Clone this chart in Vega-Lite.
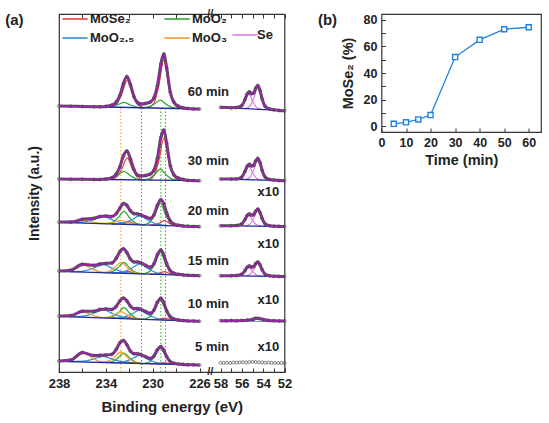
{
"$schema":"https://vega.github.io/schema/vega-lite/v6.json",
"padding":{"left":4,"top":7,"right":0,"bottom":0},
"background":"white",
"bounds":"flush",
"spacing":96.5,
"config":{
 "font":"Liberation Sans",
 "view":{"stroke":"#333","strokeWidth":1.2},
 "axis":{"labelFont":"Liberation Sans","labelFontWeight":"bold","labelColor":"#222","titleFont":"Liberation Sans","titleFontWeight":"bold","titleColor":"#222","domain":false,"grid":false,"tickColor":"#333","labelOverlap":false,"labelFlush":false}
},
"datasets":{
"ref":[{"x":232.72,"c":"O"},{"x":230.95,"c":"B"},{"x":229.3,"c":"G"},{"x":228.9,"c":"S"}],
"lab":[{"x":57.2,"y":280,"txt":"60 min"},{"x":57.2,"y":211,"txt":"30 min"},{"x":57.2,"y":161,"txt":"20 min"},{"x":57.2,"y":111,"txt":"15 min"},{"x":57.2,"y":68,"txt":"10 min"},{"x":57.2,"y":25,"txt":"5 min"},{"x":52.5,"y":180,"txt":"x10"},{"x":52.5,"y":128,"txt":"x10"},{"x":52.5,"y":72,"txt":"x10"},{"x":52.5,"y":25,"txt":"x10"}],
"pa":[{"x":242.6,"y":352,"txt":"(a)"}],
"pb":[{"t":-25.9,"v":80,"txt":"(b)"}],
"brk":[{"x":140,"y":358},{"x":140,"y":0}],
"pct":[{"t":5,"v":1.7},{"t":10,"v":2.8},{"t":15,"v":5},{"t":20,"v":8.3},{"t":30,"v":52},{"t":40,"v":65},{"t":50,"v":73},{"t":60,"v":74.5}],
"K":[{"g":"60L","x":238,"y":266},{"g":"60L","x":226,"y":263},{"g":"60R","x":58,"y":264.7},{"g":"60R","x":52,"y":261.3},
{"g":"30L","x":238,"y":193},{"g":"30L","x":226,"y":191.3},{"g":"30R","x":58,"y":193},{"g":"30R","x":52,"y":191.3},
{"g":"20L","x":238,"y":149.7},{"g":"20L","x":226,"y":145.3},{"g":"20R","x":58,"y":146.3},{"g":"20R","x":52,"y":145.5},
{"g":"15L","x":238,"y":100.7},{"g":"15L","x":226,"y":96.3},{"g":"15R","x":58,"y":96.3},{"g":"15R","x":52,"y":95.5},
{"g":"10L","x":238,"y":55.7},{"g":"10L","x":226,"y":50.7},{"g":"10R","x":58,"y":51.3},{"g":"10R","x":52,"y":51},
{"g":"5L","x":238,"y":10.7},{"g":"5L","x":226,"y":7}],
"E":[
{"g":"60L","x":238,"y":266},{"g":"60L","x":237,"y":265.8},{"g":"60L","x":236,"y":265.5},{"g":"60L","x":235,"y":265.3},{"g":"60L","x":234.5,"y":265.2},{"g":"60L","x":234,"y":265.6},{"g":"60L","x":233.5,"y":266.8},{"g":"60L","x":233.1,"y":270},{"g":"60L","x":232.8,"y":276.6},{"g":"60L","x":232.5,"y":288.5},{"g":"60L","x":232.2,"y":295.5},{"g":"60L","x":231.9,"y":287.5},{"g":"60L","x":231.6,"y":275.5},{"g":"60L","x":231.3,"y":269.5},{"g":"60L","x":231,"y":268},{"g":"60L","x":230.6,"y":268.5},{"g":"60L","x":230.2,"y":270},{"g":"60L","x":229.9,"y":274},{"g":"60L","x":229.6,"y":286},{"g":"60L","x":229.3,"y":308},{"g":"60L","x":229.05,"y":318},{"g":"60L","x":228.8,"y":304},{"g":"60L","x":228.5,"y":280},{"g":"60L","x":228.2,"y":270},{"g":"60L","x":227.8,"y":265.8},{"g":"60L","x":227.4,"y":264.3},{"g":"60L","x":227,"y":263.5},{"g":"60L","x":226.5,"y":263.1},{"g":"60L","x":226,"y":263},
{"g":"60R","x":58,"y":264.7},{"g":"60R","x":57,"y":264.3},{"g":"60R","x":56.5,"y":264.4},{"g":"60R","x":56,"y":266.5},{"g":"60R","x":55.7,"y":272.6},{"g":"60R","x":55.5,"y":277.9},{"g":"60R","x":55.3,"y":280.2},{"g":"60R","x":55.1,"y":278.3},{"g":"60R","x":54.9,"y":278.9},{"g":"60R","x":54.7,"y":283.7},{"g":"60R","x":54.5,"y":286.4},{"g":"60R","x":54.3,"y":281.8},{"g":"60R","x":54.1,"y":273.3},{"g":"60R","x":53.8,"y":265.5},{"g":"60R","x":53.4,"y":263},{"g":"60R","x":53,"y":262.2},{"g":"60R","x":52.5,"y":261.6},{"g":"60R","x":52,"y":261.3},
{"g":"30L","x":238,"y":193},{"g":"30L","x":237,"y":192.8},{"g":"30L","x":236,"y":192.7},{"g":"30L","x":235,"y":192.6},{"g":"30L","x":234.5,"y":192.5},{"g":"30L","x":234,"y":192.9},{"g":"30L","x":233.5,"y":194.2},{"g":"30L","x":233.1,"y":198.2},{"g":"30L","x":232.8,"y":205.2},{"g":"30L","x":232.5,"y":216.1},{"g":"30L","x":232.2,"y":221},{"g":"30L","x":231.9,"y":213.1},{"g":"30L","x":231.6,"y":202.5},{"g":"30L","x":231.3,"y":197},{"g":"30L","x":231,"y":196},{"g":"30L","x":230.6,"y":196.5},{"g":"30L","x":230.2,"y":198},{"g":"30L","x":229.9,"y":201.5},{"g":"30L","x":229.6,"y":213.6},{"g":"30L","x":229.3,"y":234.6},{"g":"30L","x":229.05,"y":242},{"g":"30L","x":228.8,"y":228.6},{"g":"30L","x":228.5,"y":206.3},{"g":"30L","x":228.2,"y":197.5},{"g":"30L","x":227.8,"y":194},{"g":"30L","x":227.4,"y":192.5},{"g":"30L","x":227,"y":191.6},{"g":"30L","x":226.5,"y":191.4},{"g":"30L","x":226,"y":191.3},
{"g":"30R","x":58,"y":193},{"g":"30R","x":57,"y":192.9},{"g":"30R","x":56.5,"y":193.05},{"g":"30R","x":56,"y":195},{"g":"30R","x":55.7,"y":200.75},{"g":"30R","x":55.5,"y":205.6},{"g":"30R","x":55.3,"y":207.7},{"g":"30R","x":55.1,"y":206},{"g":"30R","x":54.9,"y":206.6},{"g":"30R","x":54.7,"y":211.05},{"g":"30R","x":54.5,"y":213.6},{"g":"30R","x":54.3,"y":209.45},{"g":"30R","x":54.1,"y":201.7},{"g":"30R","x":53.8,"y":194.7},{"g":"30R","x":53.4,"y":192.5},{"g":"30R","x":53,"y":191.9},{"g":"30R","x":52.5,"y":191.45},{"g":"30R","x":52,"y":191.3},
{"g":"20L","x":238,"y":149.9},{"g":"20L","x":237,"y":150},{"g":"20L","x":236,"y":152.7},{"g":"20L","x":235,"y":153.7},{"g":"20L","x":234.5,"y":155.5},{"g":"20L","x":234,"y":155.9},{"g":"20L","x":233.5,"y":155.5},{"g":"20L","x":233.1,"y":158.4},{"g":"20L","x":232.8,"y":164},{"g":"20L","x":232.5,"y":168.4},{"g":"20L","x":232.2,"y":166.6},{"g":"20L","x":231.9,"y":161.2},{"g":"20L","x":231.6,"y":158.3},{"g":"20L","x":231.3,"y":158.1},{"g":"20L","x":231,"y":157.1},{"g":"20L","x":230.6,"y":155.1},{"g":"20L","x":230.2,"y":153.5},{"g":"20L","x":229.9,"y":157},{"g":"20L","x":229.6,"y":166.5},{"g":"20L","x":229.3,"y":172.3},{"g":"20L","x":229.05,"y":168.1},{"g":"20L","x":228.8,"y":158.9},{"g":"20L","x":228.5,"y":151.1},{"g":"20L","x":228.2,"y":148},{"g":"20L","x":227.8,"y":146.7},{"g":"20L","x":227.4,"y":146},{"g":"20L","x":227,"y":145.7},{"g":"20L","x":226.5,"y":145.5},{"g":"20L","x":226,"y":145.3},
{"g":"20R","x":58,"y":146.3},{"g":"20R","x":57,"y":146.3},{"g":"20R","x":56.5,"y":146.45},{"g":"20R","x":56,"y":148.1},{"g":"20R","x":55.7,"y":152.6},{"g":"20R","x":55.5,"y":156.5},{"g":"20R","x":55.3,"y":158.1},{"g":"20R","x":55.1,"y":156.8},{"g":"20R","x":54.9,"y":157.3},{"g":"20R","x":54.7,"y":160.9},{"g":"20R","x":54.5,"y":162.9},{"g":"20R","x":54.3,"y":159.6},{"g":"20R","x":54.1,"y":153.6},{"g":"20R","x":53.8,"y":148},{"g":"20R","x":53.4,"y":146.3},{"g":"20R","x":53,"y":145.8},{"g":"20R","x":52.5,"y":145.6},{"g":"20R","x":52,"y":145.5},
{"g":"15L","x":238,"y":101},{"g":"15L","x":237,"y":101.7},{"g":"15L","x":236,"y":107.7},{"g":"15L","x":235,"y":106.65},{"g":"15L","x":234.5,"y":108.1},{"g":"15L","x":234,"y":108.6},{"g":"15L","x":233.5,"y":108.9},{"g":"15L","x":233.1,"y":113.9},{"g":"15L","x":232.8,"y":120.4},{"g":"15L","x":232.5,"y":123.3},{"g":"15L","x":232.2,"y":119.3},{"g":"15L","x":231.9,"y":112.9},{"g":"15L","x":231.6,"y":110.1},{"g":"15L","x":231.3,"y":110.1},{"g":"15L","x":231,"y":109.2},{"g":"15L","x":230.6,"y":106.7},{"g":"15L","x":230.2,"y":104.8},{"g":"15L","x":229.9,"y":108.1},{"g":"15L","x":229.6,"y":117.1},{"g":"15L","x":229.3,"y":122},{"g":"15L","x":229.05,"y":117.2},{"g":"15L","x":228.8,"y":108.3},{"g":"15L","x":228.5,"y":101.3},{"g":"15L","x":228.2,"y":98.8},{"g":"15L","x":227.8,"y":97.7},{"g":"15L","x":227.4,"y":97.1},{"g":"15L","x":227,"y":96.7},{"g":"15L","x":226.5,"y":96.5},{"g":"15L","x":226,"y":96.3},
{"g":"15R","x":58,"y":96.3},{"g":"15R","x":57,"y":96.3},{"g":"15R","x":56.5,"y":96.4},{"g":"15R","x":56,"y":97.8},{"g":"15R","x":55.7,"y":101.5},{"g":"15R","x":55.5,"y":104.7},{"g":"15R","x":55.3,"y":106.1},{"g":"15R","x":55.1,"y":105},{"g":"15R","x":54.9,"y":105.4},{"g":"15R","x":54.7,"y":108.4},{"g":"15R","x":54.5,"y":110},{"g":"15R","x":54.3,"y":107.3},{"g":"15R","x":54.1,"y":102.3},{"g":"15R","x":53.8,"y":97.6},{"g":"15R","x":53.4,"y":96.2},{"g":"15R","x":53,"y":95.8},{"g":"15R","x":52.5,"y":95.6},{"g":"15R","x":52,"y":95.5},
{"g":"10L","x":238,"y":55.9},{"g":"10L","x":237,"y":56.4},{"g":"10L","x":236,"y":60.7},{"g":"10L","x":235,"y":60.8},{"g":"10L","x":234.5,"y":62.6},{"g":"10L","x":234,"y":63.1},{"g":"10L","x":233.5,"y":62.5},{"g":"10L","x":233.1,"y":65.7},{"g":"10L","x":232.8,"y":71.1},{"g":"10L","x":232.5,"y":73.9},{"g":"10L","x":232.2,"y":71},{"g":"10L","x":231.9,"y":65.7},{"g":"10L","x":231.6,"y":63.3},{"g":"10L","x":231.3,"y":63.5},{"g":"10L","x":231,"y":62.7},{"g":"10L","x":230.6,"y":60.4},{"g":"10L","x":230.2,"y":58.75},{"g":"10L","x":229.9,"y":61.7},{"g":"10L","x":229.6,"y":69.8},{"g":"10L","x":229.3,"y":73.8},{"g":"10L","x":229.05,"y":69.2},{"g":"10L","x":228.8,"y":61.2},{"g":"10L","x":228.5,"y":55.25},{"g":"10L","x":228.2,"y":53.05},{"g":"10L","x":227.8,"y":52},{"g":"10L","x":227.4,"y":51.5},{"g":"10L","x":227,"y":51.1},{"g":"10L","x":226.5,"y":50.9},{"g":"10L","x":226,"y":50.7},
{"g":"10R","x":58,"y":51.3},{"g":"10R","x":57.5,"y":51.2},{"g":"10R","x":57,"y":51.4},{"g":"10R","x":56.5,"y":51.2},{"g":"10R","x":56,"y":51.5},{"g":"10R","x":55.5,"y":51.8},{"g":"10R","x":55,"y":52.6},{"g":"10R","x":54.7,"y":53.8},{"g":"10R","x":54.4,"y":53.5},{"g":"10R","x":54,"y":52.5},{"g":"10R","x":53.5,"y":51.6},{"g":"10R","x":53,"y":51.3},{"g":"10R","x":52.5,"y":51.1},{"g":"10R","x":52,"y":51},
{"g":"5L","x":238,"y":11},{"g":"5L","x":237,"y":12},{"g":"5L","x":236,"y":19.5},{"g":"5L","x":235,"y":16.4},{"g":"5L","x":234.5,"y":16.7},{"g":"5L","x":234,"y":17},{"g":"5L","x":233.5,"y":17.6},{"g":"5L","x":233.1,"y":22.9},{"g":"5L","x":232.8,"y":29.2},{"g":"5L","x":232.5,"y":31.4},{"g":"5L","x":232.2,"y":27.1},{"g":"5L","x":231.9,"y":20.9},{"g":"5L","x":231.6,"y":18.3},{"g":"5L","x":231.3,"y":18.25},{"g":"5L","x":231,"y":17.4},{"g":"5L","x":230.6,"y":15.3},{"g":"5L","x":230.2,"y":13.6},{"g":"5L","x":229.9,"y":15.8},{"g":"5L","x":229.6,"y":22.2},{"g":"5L","x":229.3,"y":25.4},{"g":"5L","x":229.05,"y":21.6},{"g":"5L","x":228.8,"y":15.3},{"g":"5L","x":228.5,"y":10.5},{"g":"5L","x":228.2,"y":8.8},{"g":"5L","x":227.8,"y":8},{"g":"5L","x":227.4,"y":7.6},{"g":"5L","x":227,"y":7.3},{"g":"5L","x":226.5,"y":7.15},{"g":"5L","x":226,"y":7},
{"g":"5R","x":58,"y":9.2},{"g":"5R","x":57.7,"y":9},{"g":"5R","x":57.4,"y":9.4},{"g":"5R","x":57.1,"y":9.1},{"g":"5R","x":56.8,"y":9.5},{"g":"5R","x":56.5,"y":9.3},{"g":"5R","x":56.2,"y":9.6},{"g":"5R","x":55.9,"y":9.8},{"g":"5R","x":55.6,"y":9.5},{"g":"5R","x":55.3,"y":9.9},{"g":"5R","x":55,"y":10.2},{"g":"5R","x":54.7,"y":10},{"g":"5R","x":54.4,"y":9.7},{"g":"5R","x":54.1,"y":9.6},{"g":"5R","x":53.8,"y":9.3},{"g":"5R","x":53.5,"y":9.4},{"g":"5R","x":53.2,"y":9.1},{"g":"5R","x":52.9,"y":9.2},{"g":"5R","x":52.6,"y":8.9},{"g":"5R","x":52.3,"y":9},{"g":"5R","x":52,"y":8.8}
],
"C":[
{"g":"60L1","c":"S","x":230.33,"y":264.1},{"g":"60L1","c":"S","x":229.85,"y":269.8},{"g":"60L1","c":"S","x":229.45,"y":287.9},{"g":"60L1","c":"S","x":229.05,"y":311.8},{"g":"60L1","c":"S","x":228.65,"y":287.7},{"g":"60L1","c":"S","x":228.25,"y":269.4},{"g":"60L1","c":"S","x":227.77,"y":263.4},
{"g":"60L2","c":"S","x":233.62,"y":264.9},{"g":"60L2","c":"S","x":233.08,"y":268},{"g":"60L2","c":"S","x":232.63,"y":278.2},{"g":"60L2","c":"S","x":232.18,"y":291.5},{"g":"60L2","c":"S","x":231.73,"y":277.9},{"g":"60L2","c":"S","x":231.28,"y":267.5},{"g":"60L2","c":"S","x":230.74,"y":264.2},
{"g":"60L1","c":"G","x":230.95,"y":264.2},{"g":"60L1","c":"G","x":230.35,"y":265.1},{"g":"60L1","c":"G","x":229.85,"y":268},{"g":"60L1","c":"G","x":229.35,"y":271.8},{"g":"60L1","c":"G","x":228.85,"y":267.7},{"g":"60L1","c":"G","x":228.35,"y":264.6},{"g":"60L1","c":"G","x":227.75,"y":263.4},
{"g":"60L2","c":"G","x":234.21,"y":265.1},{"g":"60L2","c":"G","x":233.55,"y":265.5},{"g":"60L2","c":"G","x":233,"y":267.3},{"g":"60L2","c":"G","x":232.45,"y":269.6},{"g":"60L2","c":"G","x":231.9,"y":267},{"g":"60L2","c":"G","x":231.35,"y":264.9},{"g":"60L2","c":"G","x":230.69,"y":264.2},
{"g":"60R1","c":"P","x":55.7,"y":263.4},{"g":"60R1","c":"P","x":55.25,"y":265.9},{"g":"60R1","c":"P","x":54.88,"y":274},{"g":"60R1","c":"P","x":54.5,"y":285.2},{"g":"60R1","c":"P","x":54.12,"y":273.5},{"g":"60R1","c":"P","x":53.75,"y":265},{"g":"60R1","c":"P","x":53.3,"y":262.5},
{"g":"60R2","c":"P","x":56.56,"y":264.4},{"g":"60R2","c":"P","x":56.11,"y":266.4},{"g":"60R2","c":"P","x":55.74,"y":271},{"g":"60R2","c":"P","x":55.36,"y":278.3},{"g":"60R2","c":"P","x":54.98,"y":270.6},{"g":"60R2","c":"P","x":54.61,"y":264.6},{"g":"60R2","c":"P","x":54.16,"y":262.9},
{"g":"30L1","c":"S","x":230.33,"y":191.9},{"g":"30L1","c":"S","x":229.85,"y":196.8},{"g":"30L1","c":"S","x":229.45,"y":212.8},{"g":"30L1","c":"S","x":229.05,"y":233.7},{"g":"30L1","c":"S","x":228.65,"y":212.7},{"g":"30L1","c":"S","x":228.25,"y":196.6},{"g":"30L1","c":"S","x":227.77,"y":191.55},
{"g":"30L2","c":"S","x":233.62,"y":192.4},{"g":"30L2","c":"S","x":233.08,"y":194.9},{"g":"30L2","c":"S","x":232.63,"y":203.2},{"g":"30L2","c":"S","x":232.18,"y":214.2},{"g":"30L2","c":"S","x":231.73,"y":203.1},{"g":"30L2","c":"S","x":231.28,"y":194.6},{"g":"30L2","c":"S","x":230.74,"y":191.95},
{"g":"30L1","c":"G","x":230.95,"y":192},{"g":"30L1","c":"G","x":230.35,"y":193.2},{"g":"30L1","c":"G","x":229.85,"y":197.3},{"g":"30L1","c":"G","x":229.35,"y":202.8},{"g":"30L1","c":"G","x":228.85,"y":197.2},{"g":"30L1","c":"G","x":228.35,"y":192.9},{"g":"30L1","c":"G","x":227.75,"y":191.55},
{"g":"30L2","c":"G","x":234.21,"y":192.5},{"g":"30L2","c":"G","x":233.55,"y":193.4},{"g":"30L2","c":"G","x":233,"y":196.55},{"g":"30L2","c":"G","x":232.45,"y":200.7},{"g":"30L2","c":"G","x":231.9,"y":196.35},{"g":"30L2","c":"G","x":231.35,"y":193},{"g":"30L2","c":"G","x":230.69,"y":191.95},
{"g":"30R1","c":"P","x":55.7,"y":192.35},{"g":"30R1","c":"P","x":55.25,"y":194.7},{"g":"30R1","c":"P","x":54.88,"y":202.35},{"g":"30R1","c":"P","x":54.5,"y":212.5},{"g":"30R1","c":"P","x":54.12,"y":202.15},{"g":"30R1","c":"P","x":53.75,"y":194.3},{"g":"30R1","c":"P","x":53.3,"y":191.65},
{"g":"30R2","c":"P","x":56.56,"y":192.6},{"g":"30R2","c":"P","x":56.11,"y":194.05},{"g":"30R2","c":"P","x":55.74,"y":199.2},{"g":"30R2","c":"P","x":55.36,"y":205.95},{"g":"30R2","c":"P","x":54.98,"y":199},{"g":"30R2","c":"P","x":54.61,"y":193.65},{"g":"30R2","c":"P","x":54.16,"y":191.9},
{"g":"20L1","c":"S","x":230.28,"y":146.9},{"g":"20L1","c":"S","x":229.8,"y":147.3},{"g":"20L1","c":"S","x":229.4,"y":149.05},{"g":"20L1","c":"S","x":229,"y":151.4},{"g":"20L1","c":"S","x":228.6,"y":148.75},{"g":"20L1","c":"S","x":228.2,"y":146.7},{"g":"20L1","c":"S","x":227.72,"y":145.9},
{"g":"20L2","c":"S","x":233.57,"y":148.1},{"g":"20L2","c":"S","x":233.03,"y":148.2},{"g":"20L2","c":"S","x":232.58,"y":149.2},{"g":"20L2","c":"S","x":232.13,"y":150.55},{"g":"20L2","c":"S","x":231.68,"y":148.9},{"g":"20L2","c":"S","x":231.23,"y":147.6},{"g":"20L2","c":"S","x":230.69,"y":147},
{"g":"20L1","c":"G","x":230.79,"y":147.1},{"g":"20L1","c":"G","x":230.25,"y":149.5},{"g":"20L1","c":"G","x":229.8,"y":157.7},{"g":"20L1","c":"G","x":229.35,"y":168.5},{"g":"20L1","c":"G","x":228.9,"y":157.4},{"g":"20L1","c":"G","x":228.45,"y":148.8},{"g":"20L1","c":"G","x":227.91,"y":146},
{"g":"20L2","c":"G","x":234.05,"y":148.25},{"g":"20L2","c":"G","x":233.45,"y":149.6},{"g":"20L2","c":"G","x":232.95,"y":154.35},{"g":"20L2","c":"G","x":232.45,"y":160.7},{"g":"20L2","c":"G","x":231.95,"y":153.98},{"g":"20L2","c":"G","x":231.45,"y":148.86},{"g":"20L2","c":"G","x":230.85,"y":147.08},
{"g":"20L1","c":"B","x":233.5,"y":148.05},{"g":"20L1","c":"B","x":232.6,"y":148.8},{"g":"20L1","c":"B","x":231.85,"y":151.95},{"g":"20L1","c":"B","x":231.1,"y":156.2},{"g":"20L1","c":"B","x":230.35,"y":151.4},{"g":"20L1","c":"B","x":229.6,"y":147.7},{"g":"20L1","c":"B","x":228.7,"y":146.3},
{"g":"20L2","c":"B","x":237.08,"y":149.4},{"g":"20L2","c":"B","x":235.9,"y":149.8},{"g":"20L2","c":"B","x":235.1,"y":152.1},{"g":"20L2","c":"B","x":234.2,"y":155.3},{"g":"20L2","c":"B","x":233.3,"y":151.5},{"g":"20L2","c":"B","x":232.4,"y":148.5},{"g":"20L2","c":"B","x":231.32,"y":147.25},
{"g":"20L1","c":"O","x":234.46,"y":148.4},{"g":"20L1","c":"O","x":233.8,"y":148.6},{"g":"20L1","c":"O","x":233.25,"y":149.96},{"g":"20L1","c":"O","x":232.7,"y":151.76},{"g":"20L1","c":"O","x":232.15,"y":149.56},{"g":"20L1","c":"O","x":231.6,"y":147.8},{"g":"20L1","c":"O","x":230.94,"y":147.1},
{"g":"20L2","c":"O","x":237.93,"y":149.7},{"g":"20L2","c":"O","x":237.15,"y":149.75},{"g":"20L2","c":"O","x":236.5,"y":150.66},{"g":"20L2","c":"O","x":235.85,"y":151.9},{"g":"20L2","c":"O","x":235.2,"y":150.2},{"g":"20L2","c":"O","x":234.55,"y":148.8},{"g":"20L2","c":"O","x":233.77,"y":148.15},
{"g":"20R1","c":"P","x":55.7,"y":146},{"g":"20R1","c":"P","x":55.25,"y":147.9},{"g":"20R1","c":"P","x":54.88,"y":154},{"g":"20R1","c":"P","x":54.5,"y":162},{"g":"20R1","c":"P","x":54.12,"y":153.9},{"g":"20R1","c":"P","x":53.75,"y":147.7},{"g":"20R1","c":"P","x":53.3,"y":145.67},
{"g":"20R2","c":"P","x":56.56,"y":146.1},{"g":"20R2","c":"P","x":56.11,"y":147.3},{"g":"20R2","c":"P","x":55.74,"y":151.4},{"g":"20R2","c":"P","x":55.36,"y":156.75},{"g":"20R2","c":"P","x":54.98,"y":151.3},{"g":"20R2","c":"P","x":54.61,"y":147.15},{"g":"20R2","c":"P","x":54.16,"y":145.79},
{"g":"15L1","c":"S","x":230.28,"y":97.9},{"g":"15L1","c":"S","x":229.8,"y":98.05},{"g":"15L1","c":"S","x":229.4,"y":99.05},{"g":"15L1","c":"S","x":229,"y":100.4},{"g":"15L1","c":"S","x":228.6,"y":98.75},{"g":"15L1","c":"S","x":228.2,"y":97.45},{"g":"15L1","c":"S","x":227.72,"y":96.9},
{"g":"15L2","c":"S","x":233.57,"y":99.1},{"g":"15L2","c":"S","x":233.03,"y":99.1},{"g":"15L2","c":"S","x":232.58,"y":99.7},{"g":"15L2","c":"S","x":232.13,"y":100.55},{"g":"15L2","c":"S","x":231.68,"y":99.4},{"g":"15L2","c":"S","x":231.23,"y":98.46},{"g":"15L2","c":"S","x":230.69,"y":98},
{"g":"15L1","c":"G","x":230.79,"y":98.1},{"g":"15L1","c":"G","x":230.25,"y":100.5},{"g":"15L1","c":"G","x":229.8,"y":108.7},{"g":"15L1","c":"G","x":229.35,"y":119.5},{"g":"15L1","c":"G","x":228.9,"y":108.4},{"g":"15L1","c":"G","x":228.45,"y":99.8},{"g":"15L1","c":"G","x":227.91,"y":97},
{"g":"15L2","c":"G","x":234.05,"y":99.25},{"g":"15L2","c":"G","x":233.45,"y":100.35},{"g":"15L2","c":"G","x":232.95,"y":104.35},{"g":"15L2","c":"G","x":232.45,"y":109.67},{"g":"15L2","c":"G","x":231.95,"y":103.98},{"g":"15L2","c":"G","x":231.45,"y":99.6},{"g":"15L2","c":"G","x":230.85,"y":98.1},
{"g":"15L1","c":"B","x":233.5,"y":99.05},{"g":"15L1","c":"B","x":232.6,"y":99.9},{"g":"15L1","c":"B","x":231.85,"y":103.45},{"g":"15L1","c":"B","x":231.1,"y":108.17},{"g":"15L1","c":"B","x":230.35,"y":102.9},{"g":"15L1","c":"B","x":229.6,"y":98.8},{"g":"15L1","c":"B","x":228.7,"y":97.3},
{"g":"15L2","c":"B","x":237.08,"y":100.4},{"g":"15L2","c":"B","x":235.9,"y":100.9},{"g":"15L2","c":"B","x":235.1,"y":103.64},{"g":"15L2","c":"B","x":234.2,"y":107.3},{"g":"15L2","c":"B","x":233.3,"y":102.98},{"g":"15L2","c":"B","x":232.4,"y":99.6},{"g":"15L2","c":"B","x":231.32,"y":98.25},
{"g":"15L1","c":"O","x":234.46,"y":99.4},{"g":"15L1","c":"O","x":233.8,"y":100.5},{"g":"15L1","c":"O","x":233.25,"y":104.46},{"g":"15L1","c":"O","x":232.7,"y":109.76},{"g":"15L1","c":"O","x":232.15,"y":104.06},{"g":"15L1","c":"O","x":231.6,"y":99.7},{"g":"15L1","c":"O","x":230.94,"y":98.1},
{"g":"15L2","c":"O","x":237.93,"y":100.7},{"g":"15L2","c":"O","x":237.15,"y":101.2},{"g":"15L2","c":"O","x":236.5,"y":103.66},{"g":"15L2","c":"O","x":235.85,"y":106.9},{"g":"15L2","c":"O","x":235.2,"y":103.2},{"g":"15L2","c":"O","x":234.55,"y":100.3},{"g":"15L2","c":"O","x":233.77,"y":99.15},
{"g":"15R1","c":"P","x":55.7,"y":96},{"g":"15R1","c":"P","x":55.25,"y":97.6},{"g":"15R1","c":"P","x":54.88,"y":102.6},{"g":"15R1","c":"P","x":54.5,"y":109.3},{"g":"15R1","c":"P","x":54.12,"y":102.5},{"g":"15R1","c":"P","x":53.75,"y":97.4},{"g":"15R1","c":"P","x":53.3,"y":95.67},
{"g":"15R2","c":"P","x":56.56,"y":96.1},{"g":"15R2","c":"P","x":56.11,"y":97.1},{"g":"15R2","c":"P","x":55.74,"y":100.5},{"g":"15R2","c":"P","x":55.36,"y":104.95},{"g":"15R2","c":"P","x":54.98,"y":100.4},{"g":"15R2","c":"P","x":54.61,"y":96.95},{"g":"15R2","c":"P","x":54.16,"y":95.79},
{"g":"10L1","c":"S","x":230.28,"y":52.5},{"g":"10L1","c":"S","x":229.8,"y":52.5},{"g":"10L1","c":"S","x":229.4,"y":53.1},{"g":"10L1","c":"S","x":229,"y":53.95},{"g":"10L1","c":"S","x":228.6,"y":52.8},{"g":"10L1","c":"S","x":228.2,"y":51.85},{"g":"10L1","c":"S","x":227.72,"y":51.4},
{"g":"10L2","c":"S","x":233.57,"y":53.9},{"g":"10L2","c":"S","x":233.03,"y":53.8},{"g":"10L2","c":"S","x":232.58,"y":54.2},{"g":"10L2","c":"S","x":232.13,"y":54.75},{"g":"10L2","c":"S","x":231.68,"y":53.8},{"g":"10L2","c":"S","x":231.23,"y":53.05},{"g":"10L2","c":"S","x":230.69,"y":52.7},
{"g":"10L1","c":"G","x":230.79,"y":52.7},{"g":"10L1","c":"G","x":230.25,"y":54.9},{"g":"10L1","c":"G","x":229.8,"y":62.3},{"g":"10L1","c":"G","x":229.35,"y":72.1},{"g":"10L1","c":"G","x":228.9,"y":61.9},{"g":"10L1","c":"G","x":228.45,"y":54.1},{"g":"10L1","c":"G","x":227.91,"y":51.5},
{"g":"10L2","c":"G","x":234.05,"y":54.1},{"g":"10L2","c":"G","x":233.45,"y":55.1},{"g":"10L2","c":"G","x":232.95,"y":59.1},{"g":"10L2","c":"G","x":232.45,"y":64.4},{"g":"10L2","c":"G","x":231.95,"y":58.7},{"g":"10L2","c":"G","x":231.45,"y":54.3},{"g":"10L2","c":"G","x":230.85,"y":52.7},
{"g":"10L1","c":"B","x":233.5,"y":53.8},{"g":"10L1","c":"B","x":232.6,"y":54.5},{"g":"10L1","c":"B","x":231.85,"y":57.6},{"g":"10L1","c":"B","x":231.1,"y":61.8},{"g":"10L1","c":"B","x":230.35,"y":57},{"g":"10L1","c":"B","x":229.6,"y":53.3},{"g":"10L1","c":"B","x":228.7,"y":51.8},
{"g":"10L2","c":"B","x":237.08,"y":55.3},{"g":"10L2","c":"B","x":235.9,"y":55.8},{"g":"10L2","c":"B","x":235.1,"y":58.5},{"g":"10L2","c":"B","x":234.2,"y":62.1},{"g":"10L2","c":"B","x":233.3,"y":57.75},{"g":"10L2","c":"B","x":232.4,"y":54.3},{"g":"10L2","c":"B","x":231.32,"y":52.9},
{"g":"10L1","c":"O","x":234.46,"y":54.2},{"g":"10L1","c":"O","x":233.8,"y":54.8},{"g":"10L1","c":"O","x":233.25,"y":57.2},{"g":"10L1","c":"O","x":232.7,"y":60.5},{"g":"10L1","c":"O","x":232.15,"y":56.8},{"g":"10L1","c":"O","x":231.6,"y":53.9},{"g":"10L1","c":"O","x":230.94,"y":52.8},
{"g":"10L2","c":"O","x":237.93,"y":55.7},{"g":"10L2","c":"O","x":237.15,"y":55.95},{"g":"10L2","c":"O","x":236.5,"y":57.6},{"g":"10L2","c":"O","x":235.85,"y":59.8},{"g":"10L2","c":"O","x":235.2,"y":57},{"g":"10L2","c":"O","x":234.55,"y":54.9},{"g":"10L2","c":"O","x":233.77,"y":53.95},
{"g":"5L1","c":"S","x":230.28,"y":8.3},{"g":"5L1","c":"S","x":229.8,"y":8.35},{"g":"5L1","c":"S","x":229.4,"y":8.8},{"g":"5L1","c":"S","x":229,"y":9.4},{"g":"5L1","c":"S","x":228.6,"y":8.55},{"g":"5L1","c":"S","x":228.2,"y":7.86},{"g":"5L1","c":"S","x":227.72,"y":7.5},
{"g":"5L2","c":"S","x":233.57,"y":9.3},{"g":"5L2","c":"S","x":233.03,"y":9.3},{"g":"5L2","c":"S","x":232.58,"y":9.5},{"g":"5L2","c":"S","x":232.13,"y":9.9},{"g":"5L2","c":"S","x":231.68,"y":9.25},{"g":"5L2","c":"S","x":231.23,"y":8.7},{"g":"5L2","c":"S","x":230.69,"y":8.4},
{"g":"5L1","c":"G","x":230.79,"y":8.5},{"g":"5L1","c":"G","x":230.25,"y":10.2},{"g":"5L1","c":"G","x":229.8,"y":16.2},{"g":"5L1","c":"G","x":229.35,"y":24},{"g":"5L1","c":"G","x":228.9,"y":15.9},{"g":"5L1","c":"G","x":228.45,"y":9.7},{"g":"5L1","c":"G","x":227.91,"y":7.6},
{"g":"5L2","c":"G","x":234.05,"y":9.5},{"g":"5L2","c":"G","x":233.45,"y":10.5},{"g":"5L2","c":"G","x":232.95,"y":14.15},{"g":"5L2","c":"G","x":232.45,"y":18.99},{"g":"5L2","c":"G","x":231.95,"y":13.84},{"g":"5L2","c":"G","x":231.45,"y":9.9},{"g":"5L2","c":"G","x":230.85,"y":8.5},
{"g":"5L1","c":"B","x":233.5,"y":9.3},{"g":"5L1","c":"B","x":232.6,"y":10},{"g":"5L1","c":"B","x":231.85,"y":12.8},{"g":"5L1","c":"B","x":231.1,"y":16.6},{"g":"5L1","c":"B","x":230.35,"y":12.3},{"g":"5L1","c":"B","x":229.6,"y":9.1},{"g":"5L1","c":"B","x":228.7,"y":7.8},
{"g":"5L2","c":"B","x":237.08,"y":10.4},{"g":"5L2","c":"B","x":235.9,"y":10.8},{"g":"5L2","c":"B","x":235.1,"y":12.8},{"g":"5L2","c":"B","x":234.2,"y":15.5},{"g":"5L2","c":"B","x":233.3,"y":12.25},{"g":"5L2","c":"B","x":232.4,"y":9.7},{"g":"5L2","c":"B","x":231.32,"y":8.6},
{"g":"5L1","c":"O","x":234.46,"y":9.7},{"g":"5L1","c":"O","x":233.8,"y":10.8},{"g":"5L1","c":"O","x":233.25,"y":14.8},{"g":"5L1","c":"O","x":232.7,"y":20.15},{"g":"5L1","c":"O","x":232.15,"y":14.5},{"g":"5L1","c":"O","x":231.6,"y":10.1},{"g":"5L1","c":"O","x":230.94,"y":8.6},
{"g":"5L2","c":"O","x":237.93,"y":10.7},{"g":"5L2","c":"O","x":237.15,"y":11.5},{"g":"5L2","c":"O","x":236.5,"y":14.7},{"g":"5L2","c":"O","x":235.85,"y":19},{"g":"5L2","c":"O","x":235.2,"y":14.3},{"g":"5L2","c":"O","x":234.55,"y":10.7},{"g":"5L2","c":"O","x":233.77,"y":9.4}
]
},
"hconcat":[
{
 "width":225.5,"height":358,
 "resolve":{"axis":{"x":"independent"}},
 "layer":[
  {"data":{"name":"ref"},"mark":{"type":"rule","strokeDash":[1.5,2],"strokeWidth":1},
   "encoding":{
    "x":{"field":"x","type":"quantitative","scale":{"domain":[238,226,58,52],"range":[0,140.5,161.5,225.5],"nice":false,"zero":false},"axis":null},
    "y":{"datum":0,"type":"quantitative","scale":{"domain":[0,358],"nice":false,"zero":false}},
    "y2":{"datum":265},
    "stroke":{"field":"c","type":"nominal","scale":{"domain":["O","B","G","S"],"range":["#f39c2a","#2b8fe0","#2ca82c","#e8413c"]},"legend":null}}},
  {"data":{"name":"C"},"transform":[{"filter":"datum.c!='P'"}],"mark":{"type":"line","strokeWidth":1.2,"interpolate":"monotone"},
   "encoding":{
    "x":{"field":"x","type":"quantitative","scale":{"domain":[238,226,58,52],"range":[0,140.5,161.5,225.5],"nice":false,"zero":false},
      "axis":{"orient":"bottom","values":[238,236,234,232,230,228,226,58,57,56,55,54,53,52],"labelExpr":"indexof([238,234,230,226,58,56,54,52],datum.value)>=0?datum.label:''","tickSize":-4,"labelPadding":9,"labelFontSize":13,"title":"Binding energy (eV)","titleFontSize":15,"titlePadding":9}},
    "y":{"field":"y","type":"quantitative","scale":{"domain":[0,358],"nice":false,"zero":false},
      "axis":{"title":"Intensity (a.u.)","labels":false,"ticks":false,"titleFontSize":14,"titlePadding":18}},
    "color":{"field":"c","type":"nominal","scale":{"domain":["S","G","B","O"],"range":["#e8413c","#2ca82c","#2b8fe0","#f39c2a"]},
      "legend":{"orient":"none","legendX":8,"legendY":-3,"direction":"horizontal","columns":2,"title":null,"symbolType":"M-1.8,0H1.8","symbolSize":196,"symbolStrokeWidth":1.6,"labelFont":"Liberation Sans","labelFontSize":13,"labelFontWeight":"bold","labelColor":"#222","labelOffset":7,"columnPadding":26,"rowPadding":4,"padding":0,
       "labelExpr":"datum.label=='S'?'MoSe\u2082':datum.label=='G'?'MoO\u2082':datum.label=='B'?'MoO\u2082.\u2085':'MoO\u2083'"}},
    "detail":{"field":"g","type":"nominal"}}},
  {"data":{"name":"C"},"transform":[{"filter":"datum.c=='P'"}],"mark":{"type":"line","strokeWidth":1.2,"interpolate":"monotone","color":"#e07be6"},
   "encoding":{
    "x":{"field":"x","type":"quantitative","scale":{"domain":[238,226,58,52],"range":[0,140.5,161.5,225.5],"nice":false,"zero":false},"axis":null},
    "y":{"field":"y","type":"quantitative","scale":{"domain":[0,358],"nice":false,"zero":false}},
    "opacity":{"datum":"Se","type":"ordinal","scale":{"domain":["Se"],"range":[1]},
      "legend":{"orient":"none","legendX":178,"legendY":13,"title":null,"symbolType":"M-1.8,0H1.8","symbolSize":196,"symbolStrokeWidth":1.6,"symbolStrokeColor":"#e07be6","symbolFillColor":"transparent","labelFont":"Liberation Sans","labelFontSize":13,"labelFontWeight":"bold","labelColor":"#222","labelOffset":4,"padding":0}},
    "detail":{"field":"g","type":"nominal"}}},
  {"data":{"name":"K"},"mark":{"type":"line","color":"#1d2b9b","strokeWidth":1.3},
   "encoding":{
    "x":{"field":"x","type":"quantitative","scale":{"domain":[238,226,58,52],"range":[0,140.5,161.5,225.5],"nice":false,"zero":false},
      "axis":{"orient":"top","values":[238,236,234,232,230,228,226,58,57,56,55,54,53,52],"labels":false,"tickSize":-4,"title":null}},
    "y":{"field":"y","type":"quantitative","scale":{"domain":[0,358],"nice":false,"zero":false}},
    "detail":{"field":"g","type":"nominal"}}},
  {"data":{"name":"E"},"transform":[{"filter":"datum.g!='5R'"}],"mark":{"type":"line","color":"#505050","strokeWidth":3,"interpolate":"monotone"},
   "encoding":{
    "x":{"field":"x","type":"quantitative","scale":{"domain":[238,226,58,52],"range":[0,140.5,161.5,225.5],"nice":false,"zero":false},"axis":null},
    "y":{"field":"y","type":"quantitative","scale":{"domain":[0,358],"nice":false,"zero":false}},
    "detail":{"field":"g","type":"nominal"}}},
  {"data":{"name":"E"},"mark":{"type":"point","shape":"circle","filled":false,"stroke":"#444","strokeWidth":0.7,"size":9,"opacity":0.9},
   "encoding":{
    "x":{"field":"x","type":"quantitative","scale":{"domain":[238,226,58,52],"range":[0,140.5,161.5,225.5],"nice":false,"zero":false},"axis":null},
    "y":{"field":"y","type":"quantitative","scale":{"domain":[0,358],"nice":false,"zero":false}}}},
  {"data":{"name":"E"},"transform":[{"filter":"datum.g!='5R'"}],"mark":{"type":"line","color":"#a21fb5","strokeWidth":1.5,"interpolate":"monotone"},
   "encoding":{
    "x":{"field":"x","type":"quantitative","scale":{"domain":[238,226,58,52],"range":[0,140.5,161.5,225.5],"nice":false,"zero":false},"axis":null},
    "y":{"field":"y","type":"quantitative","scale":{"domain":[0,358],"nice":false,"zero":false}},
    "detail":{"field":"g","type":"nominal"}}},
  {"data":{"name":"lab"},"mark":{"type":"text","align":"right","baseline":"middle","fontSize":13,"fontWeight":"bold","font":"Liberation Sans","color":"#222"},
   "encoding":{
    "x":{"field":"x","type":"quantitative","scale":{"domain":[238,226,58,52],"range":[0,140.5,161.5,225.5],"nice":false,"zero":false},"axis":null},
    "y":{"field":"y","type":"quantitative","scale":{"domain":[0,358],"nice":false,"zero":false}},
    "text":{"field":"txt","type":"nominal"}}},
  {"data":{"name":"pa"},"mark":{"type":"text","align":"left","baseline":"middle","fontSize":15,"fontWeight":"bold","font":"Liberation Sans","color":"#222"},
   "encoding":{
    "x":{"field":"x","type":"quantitative","scale":{"domain":[238,226,58,52],"range":[0,140.5,161.5,225.5],"nice":false,"zero":false},"axis":null},
    "y":{"field":"y","type":"quantitative","scale":{"domain":[0,358],"nice":false,"zero":false}},
    "text":{"field":"txt","type":"nominal"}}},
  {"data":{"name":"brk"},"mark":{"type":"text","text":"//","align":"center","baseline":"middle","fontSize":11,"fontWeight":"bold","font":"Liberation Sans","color":"#222"},
   "encoding":{
    "x":{"field":"x","type":"quantitative","scale":{"domain":[238,226,58,52],"range":[0,140.5,161.5,225.5],"nice":false,"zero":false},"axis":null},
    "y":{"field":"y","type":"quantitative","scale":{"domain":[0,358],"nice":false,"zero":false}}}}
 ]
},
{
 "width":159.5,"height":118,
 "data":{"name":"pct"},
 "encoding":{
  "x":{"field":"t","type":"quantitative","scale":{"domain":[0,65],"nice":false,"zero":false},
    "axis":{"values":[0,10,20,30,40,50,60],"tickSize":-4,"labelPadding":8,"labelFontSize":12.5,"title":"Time (min)","titleFontSize":14.5,"titlePadding":5}},
  "y":{"field":"v","type":"quantitative","scale":{"domain":[-4.5,84.5],"nice":false,"zero":false},
    "axis":{"values":[0,10,20,30,40,50,60,70,80],"labelExpr":"datum.value%20==0?datum.label:''","tickSize":-4,"labelPadding":8.5,"labelFontSize":12.5,"title":"MoSe\u2082 (%)","titleFontSize":14.5,"titlePadding":8}}
 },
 "layer":[
  {"mark":{"type":"line","color":"#1f82e0","strokeWidth":1.3}},
  {"mark":{"type":"point","shape":"square","filled":true,"fill":"white","stroke":"#1f82e0","strokeWidth":1.4,"size":26,"opacity":1}},
  {"data":{"name":"pb"},"mark":{"type":"text","align":"left","baseline":"middle","fontSize":15,"fontWeight":"bold","font":"Liberation Sans","color":"#222"},
   "encoding":{"text":{"field":"txt","type":"nominal"}}}
 ]
}
]
}
